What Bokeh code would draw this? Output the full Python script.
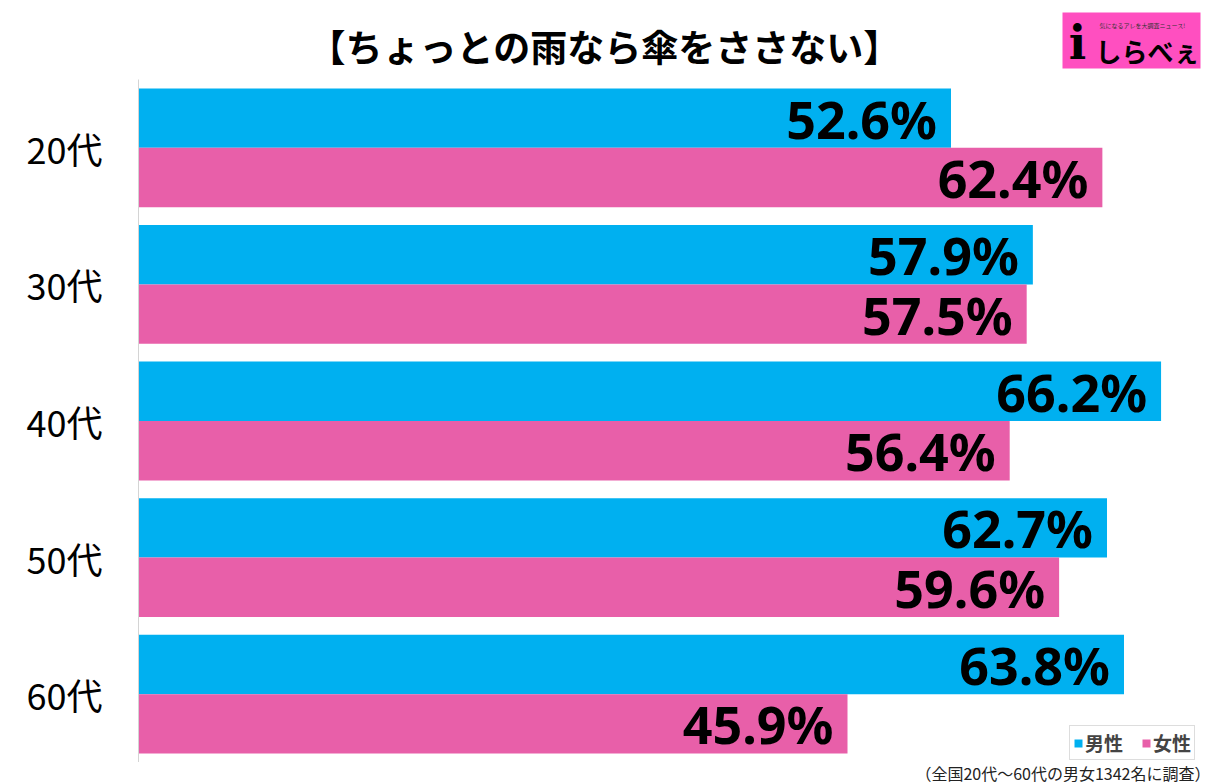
from bokeh.plotting import figure
from bokeh.layouts import column
from bokeh.models import (FactorRange, Range1d, ColumnDataSource, Label, Legend, LegendItem,
                          BoxAnnotation)
from bokeh.transform import dodge
from bokeh.core.properties import value
from bokeh.embed import file_html
from bokeh.resources import INLINE

ages = ["20代", "30代", "40代", "50代", "60代"]
male = [52.6, 57.9, 66.2, 62.7, 63.8]
female = [62.4, 57.5, 56.4, 59.6, 45.9]
series_names = ["男性", "女性"]
title_text = "【ちょっとの雨なら傘をささない】"
note_text = "（全国20代～60代の男女1342名に調査）"

BLUE = "#00B0F0"
PINK = "#E85FA9"
JP = "Noto Sans CJK JP"
W = 1216
FL, FR = 138, 1210   # frame left / right in page pixels


def blank(height):
    f = figure(width=W, height=height, x_range=Range1d(FL, FR), y_range=Range1d(height, 0),
               frame_width=FR - FL, frame_height=height,
               output_backend="svg", toolbar_location=None,
               min_border_left=FL, min_border_right=W - FR,
               min_border_top=0, min_border_bottom=0)
    f.axis.visible = False
    f.grid.visible = False
    f.outline_line_color = None
    return f


# ---------- header (title + logo) ----------
hdr = blank(79)
hdr.add_layout(Label(x=604, y=45, text=title_text, text_font=JP, text_font_style="bold",
                     text_font_size="37px", text_align="center", text_baseline="middle",
                     text_color="black"))
hdr.add_layout(BoxAnnotation(left=1062, right=1200, top=12, bottom=68,
                             fill_color="#FF4FC0", fill_alpha=1, line_color=None))
hdr.add_layout(Label(x=1077, y=42, text="i", text_font="DejaVu Serif", text_font_style="bold",
                     text_font_size="46px", text_align="center", text_baseline="middle",
                     text_color="black"))
hdr.add_layout(Label(x=1142, y=25, text="気になるアレを大調査ニュース!", text_font=JP,
                     text_font_size="6px", text_align="center", text_baseline="middle",
                     text_color="#333333"))
hdr.add_layout(Label(x=1147, y=50, text="しらべぇ", text_font=JP, text_font_style="bold",
                     text_font_size="26px", text_align="center", text_baseline="middle",
                     text_color="black"))

# ---------- main chart ----------
src = ColumnDataSource(dict(
    age=ages, male=male, female=female,
    ml=[f"{v:.1f}%" for v in male], fl=[f"{v:.1f}%" for v in female],
))

yr = FactorRange(factors=list(reversed(ages)), range_padding=0, factor_padding=0)
p = figure(y_range=yr, x_range=Range1d(0, 69.4),
           frame_width=FR - FL, frame_height=683,
           output_backend="svg", toolbar_location=None,
           min_border_left=FL, min_border_top=0, min_border_bottom=0,
           min_border_right=W - FR)
p.outline_line_color = None
p.background_fill_color = "white"
p.border_fill_color = "white"
p.xaxis.visible = False
p.xgrid.visible = False
p.ygrid.visible = False

off = 0.2175
h = 0.435
rm = p.hbar(y=dodge("age", off, range=p.y_range), right="male", left=0, height=h,
            source=src, fill_color=BLUE, line_color=None)
rf = p.hbar(y=dodge("age", -off, range=p.y_range), right="female", left=0, height=h,
            source=src, fill_color=PINK, line_color=None)

for col, lab, o in (("male", "ml", off), ("female", "fl", -off)):
    p.text(x=col, y=dodge("age", o, range=p.y_range), text=lab, source=src,
           text_align="right", text_baseline="middle", x_offset=-14, y_offset=0,
           text_font=value("Noto Sans"), text_font_style="bold",
           text_font_size="52px", text_color="black")

ax = p.yaxis[0]
ax.axis_line_color = "#d4d4d4"
ax.major_tick_line_color = None
ax.minor_tick_line_color = None
ax.major_label_text_font = JP
ax.major_label_text_font_size = "36px"
ax.major_label_text_color = "black"
ax.major_label_standoff = 30

legend = Legend(items=[LegendItem(label=series_names[0], renderers=[rm]),
                       LegendItem(label=series_names[1], renderers=[rf])],
                orientation="horizontal", location=(931, 2),
                glyph_width=10, glyph_height=10,
                label_text_font=JP, label_text_font_style="bold",
                label_text_font_size="19px", label_height=19,
                label_standoff=2, spacing=18,
                padding=3, margin=0,
                border_line_color="#bbbbbb", border_line_width=1,
                background_fill_alpha=1)
p.add_layout(legend, "center")

# ---------- footer (note) ----------
ftr = blank(21)
ftr.add_layout(Label(x=1210, y=10, text=note_text, text_font=JP, text_font_size="16px",
                     text_align="right", text_baseline="middle", text_color="#222222"))

layout = column(hdr, p, ftr, spacing=0)
open("out.html", "w").write(file_html(layout, INLINE))
